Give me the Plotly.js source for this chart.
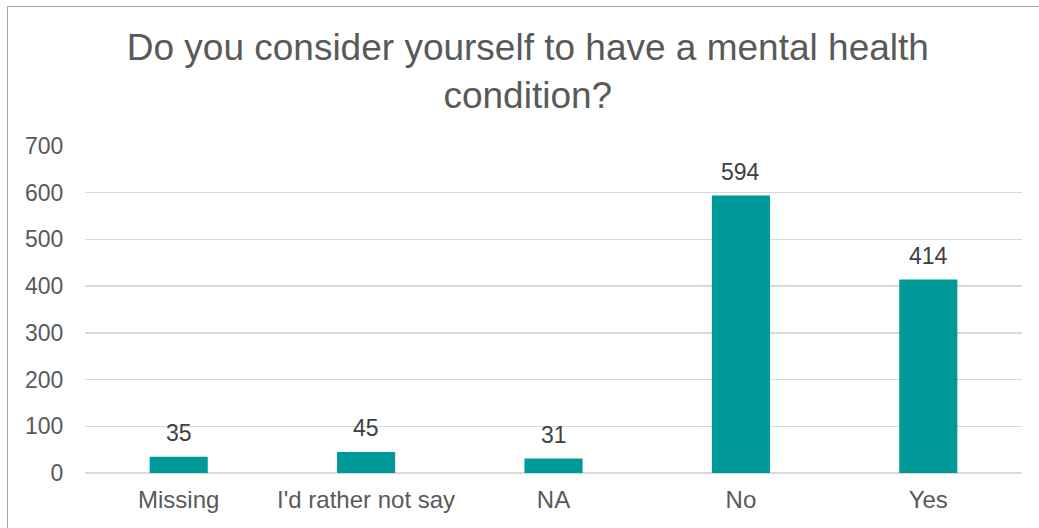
<!DOCTYPE html>
<html>
<head>
<meta charset="utf-8">
<script src="https://cdn.plot.ly/plotly-3.0.1.min.js"></script>
<style>
html,body{margin:0;padding:0;background:#fff;}
#wrap{position:relative;width:1039px;height:528px;overflow:hidden;}
#chart{position:absolute;left:0;top:0;width:1039px;height:528px;}
#frame{position:absolute;left:7px;top:6px;width:1040px;height:540px;border:1px solid #a6a6a6;pointer-events:none;}
</style>
</head>
<body>
<div id="wrap">
<div id="chart"></div>
<div id="frame"></div>
</div>
<script>
const categories = ["Missing", "I'd rather not say", "NA", "No", "Yes"];
const counts = [35, 45, 31, 594, 414];
const yTicks = [0, 100, 200, 300, 400, 500, 600, 700];

const FONT = 'Liberation Sans, Arial, sans-serif';

const trace = {
  type: 'bar',
  x: categories,
  y: counts,
  marker: {color: '#009999'},
  hoverinfo: 'x+y'
};

const labels = categories.map((c, i) => ({
  x: c,
  y: counts[i],
  xref: 'x',
  yref: 'y',
  text: String(counts[i]),
  showarrow: false,
  xanchor: 'center',
  yanchor: 'middle',
  yshift: 24,
  font: {family: FONT, size: 23, color: '#404040'}
}));

const layout = {
  width: 1039,
  height: 528,
  margin: {l: 85, r: 17, t: 146, b: 55},
  paper_bgcolor: 'rgba(0,0,0,0)',
  plot_bgcolor: '#fff',
  bargap: 0.69,
  showlegend: false,
  annotations: labels,
  title: {
    text: 'Do you consider yourself to have a mental health<br>condition?',
    x: 0.508,
    xanchor: 'center',
    xref: 'container',
    yref: 'container',
    y: 0.886,
    yanchor: 'middle',
    font: {family: FONT, size: 37, color: '#595959'}
  },
  xaxis: {
    type: 'category',
    tickfont: {family: FONT, size: 24, color: '#595959'},
    showline: false,
    ticks: 'outside',
    ticklen: 5,
    tickcolor: 'rgba(0,0,0,0)',
    showgrid: false,
    zeroline: false
  },
  yaxis: {
    range: [0, 700],
    tickvals: yTicks,
    ticktext: yTicks.map(String),
    tickfont: {family: FONT, size: 23, color: '#595959'},
    showgrid: true,
    gridcolor: '#d9d9d9',
    gridwidth: 1.5,
    zeroline: true,
    zerolinecolor: '#d9d9d9',
    zerolinewidth: 1.5,
    showline: false,
    ticks: 'outside',
    ticklen: 16,
    tickcolor: 'rgba(0,0,0,0)'
  }
};

Plotly.newPlot('chart', [trace], layout, {displayModeBar: false, staticPlot: true});
</script>
</body>
</html>
